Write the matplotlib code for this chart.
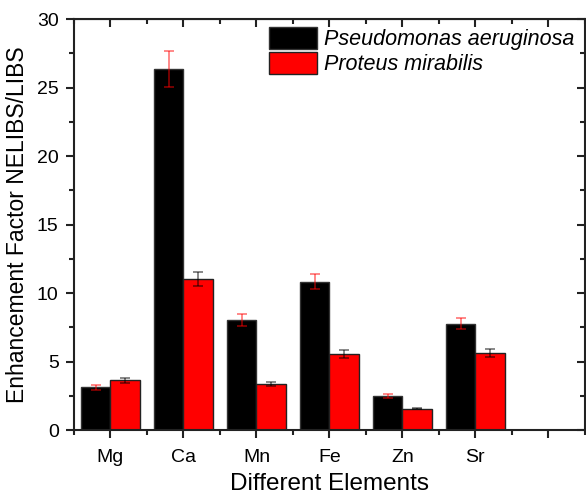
import matplotlib
matplotlib.use("Agg")
import matplotlib.pyplot as plt
from matplotlib.ticker import MultipleLocator
import numpy as np

plt.rcParams['font.family'] = ['Liberation Sans', 'DejaVu Sans']

elements = ["Mg", "Ca", "Mn", "Fe", "Zn", "Sr"]
pseudomonas = [3.12, 26.37, 8.03, 10.83, 2.48, 7.74]
pseudomonas_err = [0.17, 1.32, 0.42, 0.54, 0.13, 0.40]
proteus = [3.62, 11.0, 3.36, 5.52, 1.56, 5.62]
proteus_err = [0.18, 0.52, 0.17, 0.30, 0.05, 0.28]
series_names = ["Pseudomonas aeruginosa", "Proteus mirabilis"]

fig = plt.figure(figsize=(5.86, 4.95), dpi=100)
ax = fig.add_axes([0.1263, 0.1313, 0.8717, 0.8303])

x = np.arange(1, len(elements) + 1)
w = 0.4
ax.bar(x - w/2, pseudomonas, w, color="black", edgecolor="#333333", linewidth=1.0,
       label=series_names[0], zorder=2)
ax.bar(x + w/2, proteus, w, color="#ff0000", edgecolor="#222222", linewidth=1.0,
       label=series_names[1], zorder=2)
ax.errorbar(x - w/2, pseudomonas, yerr=pseudomonas_err, fmt="none", ecolor="red",
            alpha=0.5, elinewidth=1.3, capsize=3.5, capthick=1.3, zorder=3)
ax.errorbar(x + w/2, proteus, yerr=proteus_err, fmt="none", ecolor="black",
            alpha=0.5, elinewidth=1.3, capsize=3.5, capthick=1.3, zorder=3)

ax.set_xlim(0.5, 7.5)
ax.set_ylim(0, 30)
ax.set_xticks(list(x) + [7])
ax.set_xticklabels(elements + [""])
ax.set_xticks(np.arange(0.5, 8, 1), minor=True)
ax.yaxis.set_major_locator(MultipleLocator(5))
ax.yaxis.set_minor_locator(MultipleLocator(2.5))

ax.tick_params(axis="both", which="major", direction="out", length=6, width=1.5,
               labelsize=14, color="#222222")
ax.tick_params(axis="x", which="major", pad=8)
ax.tick_params(axis="y", which="major", pad=5)
ax.tick_params(axis="both", which="minor", direction="out", length=3.5, width=1.5,
               color="#222222")
for s in ax.spines.values():
    s.set_linewidth(1.5)
    s.set_color("#222222")

# inward ticks on top and right
axt = ax.secondary_xaxis("top")
axt.set_xticks(list(x) + [7])
axt.set_xticks(np.arange(0.5, 8, 1), minor=True)
axt.tick_params(which="major", direction="in", length=6, width=1.5, labeltop=False, color="#222222")
axt.tick_params(which="minor", direction="in", length=3.5, width=1.5, color="#222222")
axt.set_xticklabels([])
axr = ax.secondary_yaxis("right")
axr.yaxis.set_major_locator(MultipleLocator(5))
axr.yaxis.set_minor_locator(MultipleLocator(2.5))
axr.tick_params(which="major", direction="in", length=6, width=1.5, labelright=False, color="#222222")
axr.tick_params(which="minor", direction="in", length=3.5, width=1.5, color="#222222")
axr.set_yticklabels([])

ax.set_xlabel("Different Elements", fontsize=17.5, labelpad=5)
ax.set_ylabel("Enhancement Factor NELIBS/LIBS", fontsize=16.5, labelpad=6)

leg = ax.legend(loc="upper right", bbox_to_anchor=(0.995, 1.0), frameon=False,
                prop={"style": "italic", "size": 15.5}, handlelength=2.2, handleheight=1.2,
                handletextpad=0.35, labelspacing=0.08, borderaxespad=0.25, borderpad=0.1)

fig.savefig("out.png", dpi=100)
